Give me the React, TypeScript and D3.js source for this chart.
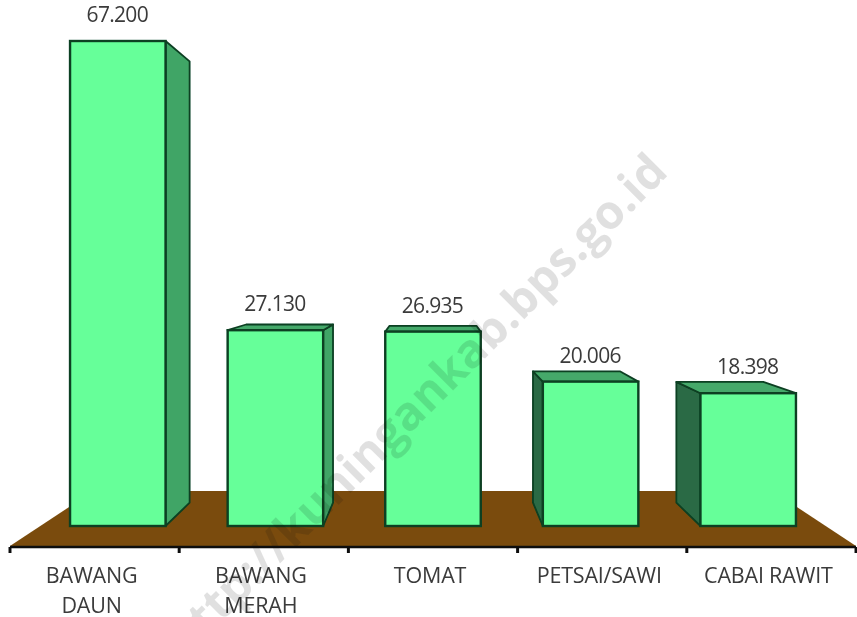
import { scaleBand, scaleLinear, polygonHull } from "d3"

// values
const categories = ["BAWANG DAUN", "BAWANG MERAH", "TOMAT", "PETSAI/SAWI", "CABAI RAWIT"]
const values = [67200, 27130, 26935, 20006, 18398]
const valueLabels = ["67.200", "27.130", "26.935", "20.006", "18.398"]
const watermark = "http://kuningankab.bps.go.id"

const width = 857
const height = 617
const font = "'Open Sans', sans-serif"

const baseY = 526
const axisY = 547
const floorBackY = 491

// fake 3D: everything shrinks toward one vanishing point
const vpX = 433
const vpY = 267
const depth = 0.91

const back = (x: number, y: number, s = depth): [number, number] => [vpX + (x - vpX) * s, vpY + (y - vpY) * s]
const pts = (list: [number, number][]) => list.map(p => p.join(",")).join(" ")

const axisX = scaleBand<string>().domain(categories).range([10, 856])
const barX = scaleBand<string>().domain(categories).range([39, 827]).paddingInner(0.394).paddingOuter(0.197)
const barY = scaleLinear().domain([0, 67200]).range([baseY, 41])

function Bar({ name, value, label }: { name: string; value: number; label: string }) {
    const x0 = barX(name)!
    const x1 = x0 + barX.bandwidth()
    const y0 = barY(value)
    const stroke = "#0b3f22"
    const side = x1 < vpX ? x1 : x0
    const sideFill = x1 < vpX ? "#3fa566" : "#2a6b45"
    const showSide = x1 < vpX || x0 > vpX

    return <g>
        {showSide && <polygon
            points={pts([[side, y0], back(side, y0), back(side, baseY), [side, baseY]])}
            fill={sideFill} stroke={stroke} strokeWidth={1.8} strokeLinejoin="round" />}
        {y0 > vpY && <polygon
            points={pts([[x0, y0], back(x0, y0), back(x1, y0), [x1, y0]])}
            fill="#45a96a" stroke={stroke} strokeWidth={1.8} strokeLinejoin="round" />}
        <rect x={x0} y={y0} width={x1 - x0} height={baseY - y0}
            fill="#66ff99" stroke={stroke} strokeWidth={2.4} />
        <text x={x0 + (x1 - x0) / 2 - 0.5} y={y0 - 19} textAnchor="middle"
            fontFamily={font} fontSize={21} letterSpacing={-0.7} fill="#3a3a3a">{label}</text>
    </g>
}

export default function App() {
    const [fx0, fx1] = axisX.range()
    const floorS = (floorBackY - vpY) / (axisY - 1 - vpY)
    const floor = polygonHull([
        [fx0, axisY - 1], [fx1, axisY - 1],
        back(fx1, axisY - 1, floorS), back(fx0, axisY - 1, floorS),
    ])!
    const ticks = [...categories.map(c => axisX(c)!), fx1]

    return <svg width={width} height={height} viewBox={`0 0 ${width} ${height}`}
        style={{ position: "absolute", left: 0, top: 0, display: "block", background: "#fff" }}>
        <defs>
            <filter id="soft" x="-2%" y="-2%" width="104%" height="104%">
                <feGaussianBlur stdDeviation="0.45" />
            </filter>
        </defs>
        <g filter="url(#soft)">
            <polygon points={pts(floor as [number, number][])} fill="#7a4c0b" />
            <line x1={fx0} x2={fx1} y1={axisY} y2={axisY} stroke="#111" strokeWidth={2.4} />
            {ticks.map((t, i) => <line key={i} x1={t} x2={t} y1={axisY} y2={axisY + 6} stroke="#111" strokeWidth={3} />)}
            {categories.map((c, i) => <Bar key={c} name={c} value={values[i]} label={valueLabels[i]} />)}
            {categories.map(c => {
                const words = c === "CABAI RAWIT" ? [c] : c.split(" ")
                const cx = axisX(c)! + axisX.bandwidth() / 2 - 3
                return <text key={c} textAnchor="middle" fontFamily={font} fontSize={21.5} letterSpacing={-0.2} fill="#3a3a3a">
                    {words.map((w, i) => <tspan key={w} x={cx} y={583 + i * 29.5}>{w}</tspan>)}
                </text>
            })}
            <text transform="translate(657,161) rotate(-45)" x={0} y={18} textAnchor="end"
                fontFamily={font} fontWeight={700} fontSize={47}
                fill="#000" fillOpacity={0.12}>{watermark}</text>
        </g>
    </svg>
}
